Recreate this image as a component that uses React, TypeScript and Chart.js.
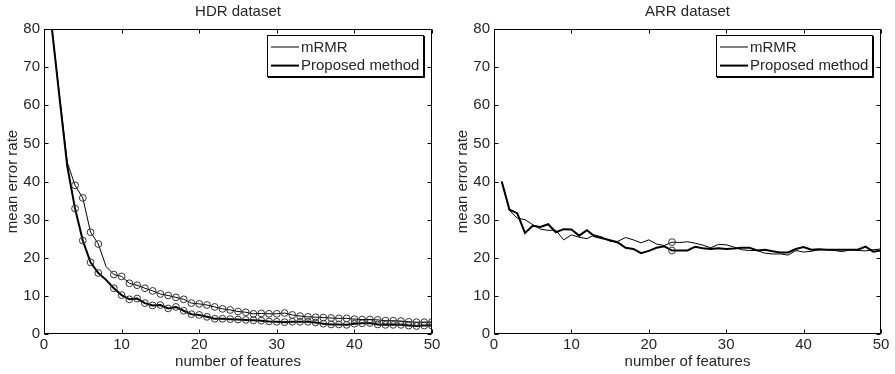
import React, { useEffect, useRef } from "react";
import { Chart, registerables } from "chart.js";

Chart.register(...registerables);

// ---------- data ----------
const features = [
  1, 2, 3, 4, 5, 6, 7, 8, 9, 10, 11, 12, 13, 14, 15, 16, 17, 18, 19, 20, 21, 22, 23, 24, 25,
  26, 27, 28, 29, 30, 31, 32, 33, 34, 35, 36, 37, 38, 39, 40, 41, 42, 43, 44, 45, 46, 47, 48,
  49, 50,
];

const seriesNames = ["mRMR", "Proposed method"];

const hdrMrmr = [
  80.5, 62.5, 45.0, 39.0, 35.7, 26.7, 23.6, 17.7, 15.6, 15.1, 13.3, 12.8, 12.0, 11.3, 10.5,
  10.1, 9.6, 9.1, 8.1, 7.9, 7.6, 7.1, 6.6, 6.3, 5.9, 5.7, 5.3, 5.4, 5.3, 5.3, 5.5, 5.0, 4.7,
  4.5, 4.4, 4.3, 4.2, 4.1, 4.1, 3.9, 3.8, 3.8, 3.7, 3.5, 3.5, 3.4, 3.2, 3.1, 3.1, 3.2,
];
const hdrProposed = [
  80.5, 62.0, 44.0, 32.9, 24.5, 18.8, 16.0, 14.2, 12.0, 10.2, 9.1, 9.3, 8.1, 7.5, 7.6, 6.7,
  7.1, 6.1, 5.2, 5.0, 4.5, 4.0, 4.0, 3.9, 3.8, 3.7, 3.6, 3.5, 3.3, 3.2, 3.1, 3.2, 3.2, 3.2,
  3.0, 2.7, 2.5, 2.5, 2.4, 2.7, 2.8, 2.9, 2.5, 2.4, 2.4, 2.4, 2.2, 2.1, 2.2, 2.2,
];

const arrMrmr = [
  40.0, 32.4, 30.4, 30.0, 28.7, 27.5, 27.2, 27.2, 24.7, 26.0, 25.4, 25.0, 26.0, 25.4, 24.3,
  24.3, 25.3, 24.7, 23.9, 24.7, 23.6, 23.2, 24.1, 24.0, 24.2, 23.8, 23.3, 22.6, 23.5, 23.4,
  22.8, 22.1, 21.9, 21.9, 21.2, 21.0, 21.0, 20.7, 21.9, 21.5, 21.7, 22.1, 22.1, 21.9, 21.6,
  22.1, 21.9, 21.8, 22.1, 22.3,
];
const arrProposed = [
  40.0, 32.6, 31.7, 26.5, 28.4, 28.1, 28.8, 26.7, 27.5, 27.4, 25.8, 27.2, 25.6, 25.1, 24.6,
  24.0, 22.6, 22.3, 21.2, 21.8, 22.6, 23.0, 21.9, 21.9, 21.9, 22.9, 22.5, 22.3, 22.5, 22.3,
  22.4, 22.6, 22.6, 21.9, 22.1, 21.7, 21.4, 21.4, 22.3, 22.8, 22.1, 22.2, 22.1, 22.1, 22.1,
  22.1, 22.1, 22.9, 21.6, 21.9,
];

// feature counts that carry a circle marker
const hdrMarked = features.filter((f) => f >= 4 && f !== 8);
const arrMarked = [23];

const xTicks = [0, 10, 20, 30, 40, 50];
const yTicks = [0, 10, 20, 30, 40, 50, 60, 70, 80];

// ---------- style ----------
const FONT = "'Liberation Sans', Arial, Helvetica, sans-serif";
const TEXT = "#262626";

const framePlugin = {
  id: "matlabFrame",
  afterDraw(chart: any) {
    const { ctx, chartArea: a, scales } = chart;
    ctx.save();
    ctx.strokeStyle = "#000";
    ctx.lineWidth = 1;
    const L = Math.round(a.left) + 0.5;
    const R = Math.round(a.right) - 0.5;
    const T = Math.round(a.top) + 0.5;
    const B = Math.round(a.bottom) - 0.5;
    ctx.strokeRect(L, T, R - L, B - T);
    const tl = 4;
    ctx.beginPath();
    for (const v of xTicks) {
      const px = Math.round(scales.x.getPixelForValue(v)) + 0.5;
      ctx.moveTo(px, B);
      ctx.lineTo(px, B - tl);
      ctx.moveTo(px, T);
      ctx.lineTo(px, T + tl);
    }
    for (const v of yTicks) {
      const py = Math.round(scales.y.getPixelForValue(v)) + 0.5;
      ctx.moveTo(L, py);
      ctx.lineTo(L + tl, py);
      ctx.moveTo(R, py);
      ctx.lineTo(R - tl, py);
    }
    ctx.stroke();

    // legend box
    ctx.font = `15px ${FONT}`;
    const ds = chart.data.datasets;
    let maxW = 0;
    for (const d of ds) maxW = Math.max(maxW, ctx.measureText(d.label).width);
    const bw = Math.round(34 + maxW + 4);
    const bh = 41;
    const bx = Math.round(a.right - 9 - bw);
    const by = Math.round(a.top + 6);
    ctx.fillStyle = "#fff";
    ctx.fillRect(bx, by, bw, bh);
    ctx.strokeStyle = "#000";
    ctx.lineWidth = 1;
    ctx.strokeRect(bx + 0.5, by + 0.5, bw, bh);
    ctx.beginPath();
    ctx.moveTo(bx + bw + 1.5, by + 1);
    ctx.lineTo(bx + bw + 1.5, by + bh + 1.5);
    ctx.lineTo(bx + 1, by + bh + 1.5);
    ctx.stroke();
    ds.forEach((d: any, i: number) => {
      const cy = by + 12 + i * 18.6;
      ctx.strokeStyle = "#000";
      ctx.lineWidth = d.borderWidth;
      ctx.beginPath();
      ctx.moveTo(bx + 4, cy);
      ctx.lineTo(bx + 32, cy);
      ctx.stroke();
      ctx.fillStyle = TEXT;
      ctx.textBaseline = "middle";
      ctx.textAlign = "left";
      ctx.fillText(d.label, bx + 34, cy + 0.5);
    });
    ctx.restore();
  },
};

type PanelProps = {
  title: string;
  mrmr: number[];
  proposed: number[];
  marked: number[];
  left: number;
  width: number;
  padRight: number;
};

function Panel({ title, mrmr, proposed, marked, left, width, padRight }: PanelProps) {
  const ref = useRef<HTMLCanvasElement | null>(null);
  useEffect(() => {
    if (!ref.current) return;
    const radius = (ctx: any) => (ctx.raw && marked.includes(ctx.raw.x) ? 3.4 : 0);
    const mk = (label: string, vals: number[], bw: number) => ({
      label,
      data: features.map((f, i) => ({ x: f, y: vals[i] })),
      borderColor: "#000",
      borderWidth: bw,
      tension: 0,
      pointRadius: radius,
      pointHoverRadius: radius,
      pointStyle: "circle",
      pointBackgroundColor: "rgba(0,0,0,0)",
      pointBorderColor: "#333",
      pointBorderWidth: 1,
      fill: false,
    });
    const tickFont = { family: FONT, size: 15 };
    const chart = new Chart(ref.current, {
      type: "line",
      data: {
        datasets: [mk(seriesNames[0], mrmr, 1), mk(seriesNames[1], proposed, 2)],
      },
      options: {
        animation: false,
        responsive: false,
        events: [],
        layout: { padding: { left: 0, right: padRight, top: 0, bottom: 0 } },
        plugins: {
          legend: { display: false },
          tooltip: { enabled: false },
          title: {
            display: true,
            text: title,
            fullSize: false,
            color: TEXT,
            font: { family: FONT, size: 15, weight: "normal" },
            padding: { top: 3, bottom: 8 },
          },
        },
        scales: {
          x: {
            type: "linear",
            min: 0,
            max: 50,
            grid: { display: false, drawTicks: false },
            border: { display: false },
            ticks: {
              stepSize: 10,
              autoSkip: false,
              maxRotation: 0,
              padding: 2,
              color: TEXT,
              font: tickFont,
            },
            title: {
              display: true,
              text: "number of features",
              color: TEXT,
              font: tickFont,
              padding: { top: 0, bottom: 3 },
            },
            afterFit: (s: any) => {
              s.height = 40;
            },
          },
          y: {
            type: "linear",
            min: 0,
            max: 80,
            grid: { display: false, drawTicks: false },
            border: { display: false },
            ticks: {
              stepSize: 10,
              autoSkip: false,
              padding: 4,
              color: TEXT,
              font: tickFont,
            },
            title: {
              display: true,
              text: "mean error rate",
              color: TEXT,
              font: tickFont,
              padding: { top: 3.5, bottom: 0 },
            },
            afterFit: (s: any) => {
              s.width = 44;
            },
          },
        },
      } as any,
      plugins: [framePlugin],
    });
    return () => chart.destroy();
  }, []);
  return (
    <canvas
      ref={ref}
      width={width}
      height={374}
      style={{ position: "absolute", left, top: 0, width, height: 374 }}
    />
  );
}

export default function App() {
  return (
    <div
      style={{
        position: "fixed",
        left: 0,
        top: 0,
        width: 895,
        height: 374,
        background: "#fff",
        overflow: "hidden",
      }}
    >
      <Panel
        title="HDR dataset"
        mrmr={hdrMrmr}
        proposed={hdrProposed}
        marked={hdrMarked}
        left={0}
        width={447}
        padRight={15}
      />
      <Panel
        title="ARR dataset"
        mrmr={arrMrmr}
        proposed={arrProposed}
        marked={arrMarked}
        left={450}
        width={445}
        padRight={14}
      />
    </div>
  );
}
